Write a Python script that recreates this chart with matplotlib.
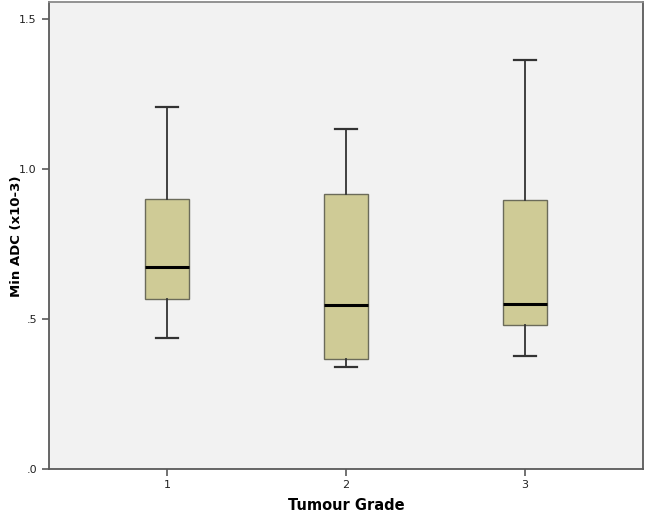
import matplotlib
matplotlib.use("Agg")
import matplotlib.pyplot as plt

# box statistics (Min ADC, x10-3)
grades = ["1", "2", "3"]
whisker_low = [0.434, 0.339, 0.377]
q1 = [0.566, 0.367, 0.479]
median = [0.671, 0.545, 0.549]
q3 = [0.899, 0.915, 0.897]
whisker_high = [1.206, 1.133, 1.362]

stats = []
for i, g in enumerate(grades):
    stats.append({"label": g, "whislo": whisker_low[i], "q1": q1[i], "med": median[i],
                  "q3": q3[i], "whishi": whisker_high[i], "fliers": []})

fig = plt.figure(figsize=(6.47, 5.17), dpi=100)
ax = fig.add_axes([0.0753, 0.0938, 0.919, 0.9014])
ax.set_facecolor("#f2f2f2")

edge = "#5a5a5a"
ax.bxp(stats, positions=[1, 2, 3], widths=0.25, patch_artist=True, showfliers=False,
       boxprops=dict(facecolor="#cfcb96", edgecolor="#6b6b5a", linewidth=1.0),
       medianprops=dict(color="black", linewidth=2.2),
       whiskerprops=dict(color="#333333", linewidth=1.3),
       capprops=dict(color="#333333", linewidth=1.6),
       capwidths=0.125)

ax.set_xlim(0.34, 3.66)
ax.set_ylim(0, 1.555)
ax.set_yticks([0, 0.5, 1.0, 1.5])
ax.set_yticklabels([".0", ".5", "1.0", "1.5"])
ax.set_xticks([1, 2, 3])
ax.set_xticklabels(grades)

for s in ax.spines.values():
    s.set_color(edge)
    s.set_linewidth(1.3)
ax.spines["top"].set_color("#8a8a8a")

ax.tick_params(axis="both", colors=edge, labelcolor="#222222", labelsize=8,
               length=5, width=1.2)

# axis titles placed in figure coords so they stay inside the canvas
fig.text(0.5355, 1 - 506 / 517, "Tumour Grade", fontsize=10.5, fontweight="bold",
         ha="center", va="center")
fig.text(17 / 647, 1 - 236 / 517, "Min ADC (x10-3)", fontsize=9.5, fontweight="bold",
         ha="center", va="center", rotation=90)

fig.savefig("out.png", dpi=100)
